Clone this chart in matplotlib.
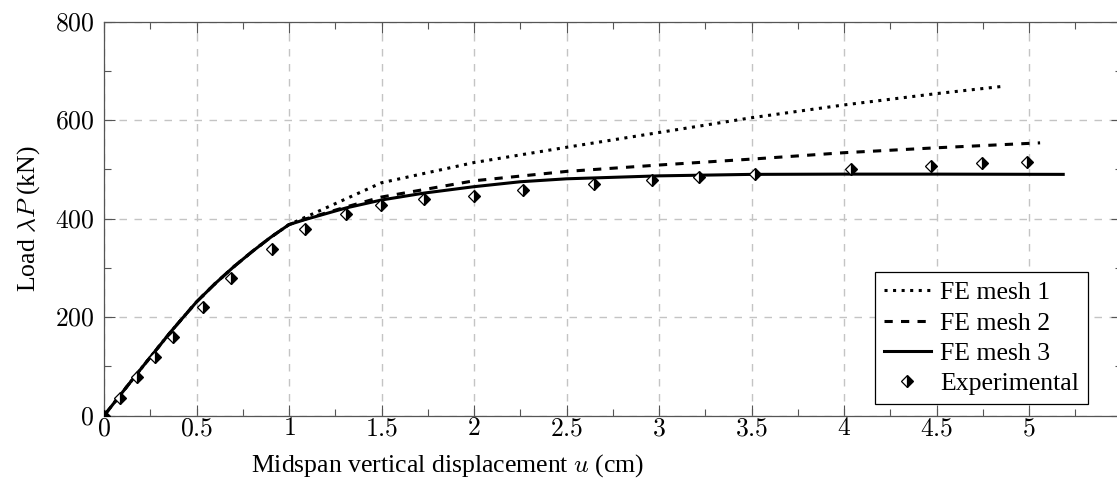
import matplotlib
matplotlib.use('Agg')
import matplotlib.pyplot as plt
from matplotlib.ticker import MultipleLocator, FuncFormatter

# FE mesh 1 (dotted)
mesh1_u = [0, 0.18, 0.36, 0.5, 0.6, 0.7, 0.8, 0.9, 1.0, 1.5, 2.0, 2.5, 3.0, 3.5, 4.0, 4.5, 4.865]
mesh1_P = [0, 86, 170, 231, 268, 302, 333, 362, 388, 473, 514, 545, 575, 605, 631, 654, 669]

# FE mesh 2 (dashed)
mesh2_u = [0, 0.18, 0.36, 0.5, 0.6, 0.7, 0.8, 0.9, 1.0, 1.085, 1.31, 1.5, 2.0, 2.5, 3.0, 3.5, 4.0, 4.5, 5.06]
mesh2_P = [0, 86, 170, 231, 268, 302, 333, 362, 388, 399, 424, 444, 477, 496, 509, 521, 534, 544, 554]

# FE mesh 3 (solid)
mesh3_u = [0, 0.18, 0.36, 0.5, 0.6, 0.7, 0.8, 0.9, 1.0, 1.085, 1.31, 1.5, 1.73, 2.0, 2.25, 2.5, 3.0, 3.5, 4.0,
           4.5, 5.185]
mesh3_P = [0, 86, 170, 231, 268, 302, 333, 362, 388, 398, 422, 438, 452, 465, 475, 481, 487, 490, 490.5,
           490.5, 490]

# experimental points
exp_u = [0, 0.087, 0.18, 0.276, 0.375, 0.537, 0.686, 0.909, 1.085, 1.31, 1.496, 1.73, 2.0, 2.263,
         2.65, 2.964, 3.216, 3.519, 4.04, 4.47, 4.744, 4.99]
exp_P = [0, 35, 79, 119, 159, 221, 279, 338, 379, 410, 428, 440, 447, 459,
         471, 479, 484, 491, 501, 507, 514, 515]

plt.rcParams['font.family'] = ['Liberation Serif', 'DejaVu Serif']
plt.rcParams['mathtext.fontset'] = 'cm'
fs = 18.5

fig = plt.figure(figsize=(11.17, 4.87), dpi=100)
ax = fig.add_axes([104 / 1117, 71.3 / 487, 1017.5 / 1117, 394 / 487])

ax.plot(mesh1_u, mesh1_P, color='black', lw=2.2, linestyle=(0, (1.0, 1.8)),
        dash_capstyle='butt', label='FE mesh 1')
ax.plot(mesh2_u, mesh2_P, color='black', lw=2.2, linestyle=(0, (2.7, 2.7)),
        dash_capstyle='butt', label='FE mesh 2')
ax.plot(mesh3_u, mesh3_P, color='black', lw=2.2, label='FE mesh 3')
ax.plot(exp_u, exp_P, linestyle='none', marker='D', ms=6.3, fillstyle='right',
        markerfacecolor='black', markerfacecoloralt='white', markeredgecolor='black',
        markeredgewidth=0.9, label='Experimental', zorder=5)

ax.set_xlim(0, 5.5)
ax.set_ylim(0, 800)
ax.xaxis.set_major_locator(MultipleLocator(0.5))
ax.xaxis.set_minor_locator(MultipleLocator(0.25))
ax.yaxis.set_major_locator(MultipleLocator(200))
ax.yaxis.set_minor_locator(MultipleLocator(100))
ax.xaxis.set_major_formatter(FuncFormatter(lambda v, p: '' if v > 5.01 else f'${v:g}$'))
ax.yaxis.set_major_formatter(FuncFormatter(lambda v, p: f'${v:g}$'))

ax.tick_params(which='both', direction='in', top=True, right=True, color='#555555', width=0.8)
ax.tick_params(which='major', length=7.6, labelsize=fs)
ax.tick_params(which='minor', length=5)
ax.tick_params(axis='x', which='major', pad=2)
ax.tick_params(axis='y', which='major', pad=7)

ax.grid(True, which='major', color='#c4c4c4', lw=1.0, linestyle=(0, (5.4, 5.4)))
ax.set_axisbelow(True)
for s in ax.spines.values():
    s.set_color('#555555')
    s.set_linewidth(0.9)

ax.set_xlabel('Midspan vertical displacement $u$ (cm)', fontsize=fs)
ax.xaxis.set_label_coords(0.338, -0.093)
ax.set_ylabel(r'Load $\lambda P$ (kN)', fontsize=fs)
ax.yaxis.set_label_coords(-0.061, 0.5)

leg = ax.legend(loc='lower right', bbox_to_anchor=(0.967, 0.03), borderaxespad=0,
                fontsize=fs, frameon=True, fancybox=False, edgecolor='black',
                framealpha=1, handlelength=1.8, handletextpad=0.37, labelspacing=0.28,
                borderpad=0.35, numpoints=1)
leg.get_frame().set_linewidth(0.9)

fig.savefig('out.png', dpi=100)
